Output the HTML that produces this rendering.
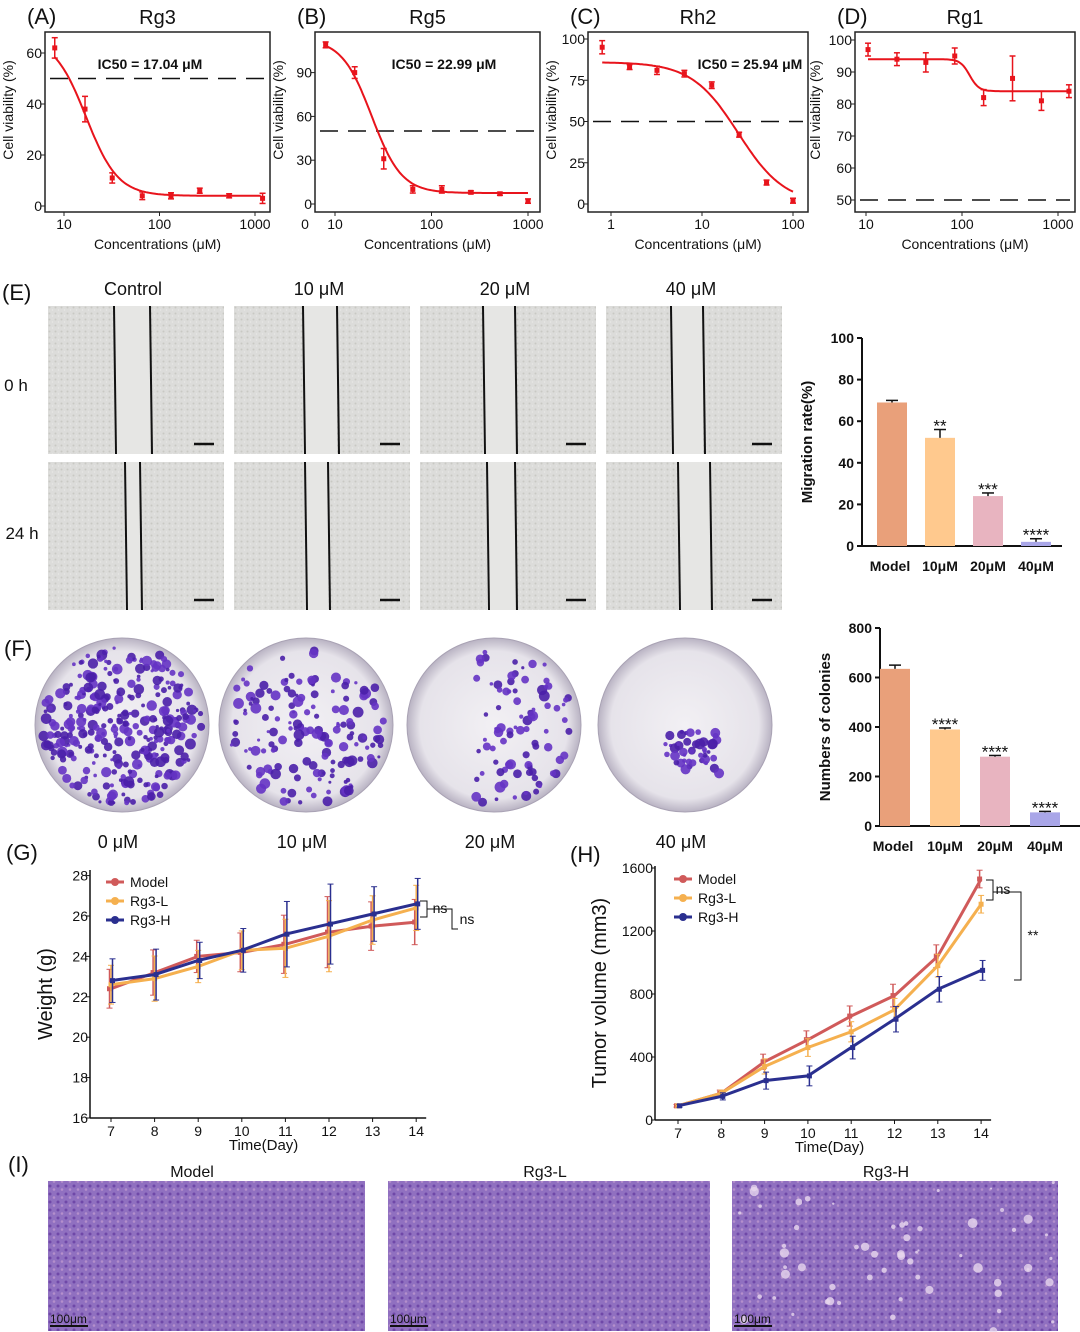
<!DOCTYPE html>
<html><head><meta charset="utf-8"><style>
html,body{margin:0;padding:0;background:#fff;}
svg{display:block;font-family:"Liberation Sans",Arial,sans-serif;}
</style></head><body>
<svg id="s" width="1080" height="1332" viewBox="0 0 1080 1332" xmlns="http://www.w3.org/2000/svg">
<defs>
<pattern id="grain" width="6" height="6" patternUnits="userSpaceOnUse"><rect width="6" height="6" fill="#dcdcda"/><circle cx="1.5" cy="1.5" r="1" fill="#c8c8c4"/><circle cx="4.5" cy="4" r="0.8" fill="#e8e8e6"/></pattern>
<pattern id="he" width="8" height="8" patternUnits="userSpaceOnUse"><rect width="8" height="8" fill="#9070c0"/><circle cx="2" cy="2" r="1.5" fill="#6f48a8"/><circle cx="6" cy="5.5" r="1.3" fill="#b48fcc"/></pattern>
<radialGradient id="dish"><stop offset="0" stop-color="#f2f0f4"/><stop offset="0.85" stop-color="#e6e3ea"/><stop offset="1" stop-color="#b9b3c3"/></radialGradient>
</defs>
<g id="root"></g>
</svg>
<script>
// ---------- data ----------
const concA=[8,16.6,32,66,132,264,536,1200];
const valA=[62,38,11,4,4,6,4,3];
const errA=[4,5,2,1.5,1.2,1,0.8,2];
const concB=[8,16,32,64,128,256,512,1000];
const valB=[109,90,31,10,10,8,7,2];
const errB=[2,4,7,2.5,2.5,1,1,1.5];
const concC=[0.8,1.6,3.2,6.4,12.8,25.6,51.2,100];
const valC=[95,83,81,79,72,42,13,2];
const errC=[4,1.5,2.5,2,2,1.5,1.5,1.5];
const concD=[10.5,21,42,84,168,336,672,1300];
const valD=[97,94,93,95,82,88,81,84];
const errD=[2,2,3,2.5,2.5,7,3,2];
const barCats=["Model","10μM","20μM","40μM"];
const migVals=[69,52,24,2];
const migErr=[1,4,1.5,1.5];
const migStars=["","**","***","****"];
const colVals=[635,390,280,55];
const colErr=[15,6,5,4];
const colStars=["","****","****","****"];
const days=[7,8,9,10,11,12,13,14];
const gModel=[22.4,23.2,24.0,24.2,24.6,25.2,25.5,25.7];
const gL=[22.6,22.9,23.5,24.3,24.4,25.0,25.8,26.4];
const gH=[22.8,23.1,23.8,24.3,25.1,25.6,26.1,26.6];
const gErr=[1.2,1.4,1.0,1.2,1.8,2.2,1.5,1.4];
const hModel=[90,170,370,510,660,790,1040,1530];
const hL=[90,170,340,460,560,700,980,1370];
const hH=[90,150,250,280,460,640,830,950];
const hErr=[10,25,60,70,80,90,90,70];
// ---------- helpers ----------
const NS="http://www.w3.org/2000/svg";const root=document.getElementById('root');
function el(t,a,p){const e=document.createElementNS(NS,t);for(const k in a)e.setAttribute(k,a[k]);(p||root).appendChild(e);return e;}
function tx(x,y,s,size,opt){opt=opt||{};const e=el('text',Object.assign({x:x,y:y,'font-size':size,fill:opt.fill||'#111','text-anchor':opt.a||'middle'},opt.attr||{}));if(opt.w)e.setAttribute('font-weight',opt.w);if(opt.rot)e.setAttribute('transform','rotate(-90 '+x+' '+y+')');e.textContent=s;return e;}
// ---------- dose-response panels ----------
function dose(o){
 const g=el('g',{});
 const X=c=>o.x10+(Math.log10(c)-1)*o.dec, Y=v=>o.y0-(v-o.ymin)*o.ppu;
 el('rect',{x:o.bx,y:32,width:o.bw,height:180,fill:'none',stroke:'#222','stroke-width':1.5},g);
 tx(o.bx+o.bw/2,24,o.title,20,{name:'panel-title'});tx(o.bx-18,24,o.letter,22,{a:'start',name:'panel-letter'});
 o.yt.forEach(v=>{el('line',{x1:o.bx-4,x2:o.bx,y1:Y(v),y2:Y(v),stroke:'#222'},g);tx(o.bx-3,Y(v)+5,String(v),14,{a:'end',name:'y-tick'});});
 o.xt.forEach(v=>{el('line',{x1:X(v),x2:X(v),y1:212,y2:216,stroke:'#222'},g);tx(X(v),229,String(v),14,{name:'x-tick'});});
 tx(o.bx+o.bw/2,249,'Concentrations (μM)',14,{name:'x-axis-title'});
 tx(o.bx-32+ (o.ylx||0),110,'Cell viability (%)',14,{rot:1,name:'y-axis-title'});
 el('line',{x1:o.bx+5,x2:o.bx+o.bw-5,y1:Y(50),y2:Y(50),stroke:'#111','stroke-width':1.5,'stroke-dasharray':'18 10'},g);
 if(o.ic)tx(o.icx,69,o.ic,14,{w:'bold',name:'ic50-label'});
 let d='';for(let i=0;i<=120;i++){const lc=Math.log10(o.cmin)+i/120*(Math.log10(o.cmax)-Math.log10(o.cmin));const c=Math.pow(10,lc);const v=o.bot+(o.top-o.bot)/(1+Math.pow(c/o.ic50,o.hill));d+=(i?'L':'M')+X(c).toFixed(1)+' '+Y(v).toFixed(1);}
 const p=el('path',{d:d,fill:'none',stroke:'#e8141c','stroke-width':2},g);
 o.c.forEach((c,i)=>{const x=X(c),y=Y(o.v[i]),e=o.e[i]*o.ppu;
  el('line',{x1:x,x2:x,y1:y-e,y2:y+e,stroke:'#e8141c','stroke-width':1.5},g);
  el('line',{x1:x-3,x2:x+3,y1:y-e,y2:y-e,stroke:'#e8141c','stroke-width':1.5},g);
  el('line',{x1:x-3,x2:x+3,y1:y+e,y2:y+e,stroke:'#e8141c','stroke-width':1.5},g);
  const r=el('rect',{x:x-2.5,y:y-2.5,width:5,height:5,fill:'#e8141c'},g);});
}
dose({name:'panel-a-rg3',letter:'(A)',title:'Rg3',bx:45,bw:225,x10:64,dec:95.5,y0:206,ymin:0,ppu:2.55,yt:[0,20,40,60],xt:[10,100,1000],ic:'IC50 = 17.04 μM',icx:150,c:concA,v:valA,e:errA,top:66,bot:4,ic50:17,hill:2.6,cmin:8,cmax:1150});
dose({name:'panel-b-rg5',letter:'(B)',title:'Rg5',bx:315,bw:225,x10:335,dec:96.5,y0:204,ymin:0,ppu:1.46,yt:[0,30,60,90],xt:[10,100,1000],ic:'IC50 = 22.99 μM',icx:444,c:concB,v:valB,e:errB,top:113,bot:7.5,ic50:24,hill:2.8,cmin:8,cmax:1000});
tx(305,229,'0',14,{name:'x-tick'});
dose({name:'panel-c-rh2',letter:'(C)',title:'Rh2',bx:588,bw:220,x10:702,dec:91,y0:204,ymin:0,ppu:1.65,yt:[0,25,50,75,100],xt:[1,10,100],ic:'IC50 = 25.94 μM',icx:750,c:concC,v:valC,e:errC,top:86,bot:0,ic50:25,hill:1.7,cmin:0.8,cmax:100});
dose({name:'panel-d-rg1',letter:'(D)',title:'Rg1',bx:855,bw:220,x10:866,dec:96,y0:200,ymin:50,ppu:3.2,yt:[50,60,70,80,90,100],xt:[10,100,1000],c:concD,v:valD,e:errD,top:94,bot:84,ic50:120,hill:9,cmin:10.5,cmax:1300,ylx:-3});
// ---------- E: scratch images ----------
tx(2,300,'(E)',22,{a:'start',name:'panel-letter'});
['Control','10 μM','20 μM','40 μM'].forEach((s,i)=>tx(133+i*186,295,s,18,{name:'column-label'}));
tx(16,391,'0 h',17,{name:'row-label'});tx(22,539,'24 h',17,{name:'row-label'});
const gaps=[[[114,150],[303,337],[483,515],[671,703]],[[125,140],[305,328],[487,515],[678,710]]];
[306,462].forEach((y,r)=>{[48,234,420,606].forEach((x,i)=>{
 const im=el('rect',{x:x,y:y,width:176,height:148,fill:'url(#grain)'});
 const gp=gaps[r][i];el('rect',{x:gp[0],y:y,width:gp[1]-gp[0],height:148,fill:'#e6e6e4'});
 el('line',{x1:gp[0],x2:gp[0]+2,y1:y,y2:y+148,stroke:'#111','stroke-width':2});el('line',{x1:gp[1],x2:gp[1]+2,y1:y,y2:y+148,stroke:'#111','stroke-width':2});
 el('line',{x1:x+146,x2:x+166,y1:y+138,y2:y+138,stroke:'#111','stroke-width':2.5});});});
// ---------- bar charts ----------
const barColors=['#e9a07a','#ffc98e','#e8b4c0','#a9a6e8'];
function bars(o){
 const Y=v=>o.y0-v*o.ppu;
 el('line',{x1:o.ax,x2:o.ax,y1:Y(o.max),y2:o.y0,stroke:'#111','stroke-width':2});
 el('line',{x1:o.ax,x2:o.ax+200,y1:o.y0,y2:o.y0,stroke:'#111','stroke-width':2});
 o.ticks.forEach(v=>{el('line',{x1:o.ax-5,x2:o.ax,y1:Y(v),y2:Y(v),stroke:'#111','stroke-width':2});tx(o.ax-8,Y(v)+5,String(v),14,{a:'end',w:'bold',name:'y-tick'});});
 tx(o.ax-50,(Y(o.max)+o.y0)/2,o.ytitle,15,{rot:1,w:'bold',name:'y-axis-title'});
 o.vals.forEach((v,i)=>{const cx=o.c0+i*o.step;
  const b=el('rect',{x:cx-15,y:Y(v),width:30,height:v*o.ppu,fill:barColors[i]});
  const e=o.err[i]*o.ppu;el('line',{x1:cx,x2:cx,y1:Y(v)-e,y2:Y(v),stroke:'#111','stroke-width':1.5});el('line',{x1:cx-6,x2:cx+6,y1:Y(v)-e,y2:Y(v)-e,stroke:'#111','stroke-width':1.5});
  if(o.stars[i])tx(cx,Y(v)-e+2,o.stars[i],17,{name:'significance'});
  tx(cx+(i==0?-2:0),o.y0+25,barCats[i],14,{w:'bold',name:'x-tick'});});
}
bars({ax:862,y0:546,ppu:2.08,max:100,ticks:[0,20,40,60,80,100],vals:migVals,err:migErr,stars:migStars,c0:892,step:48,ytitle:'Migration rate(%)'});
bars({ax:880,y0:826,ppu:0.2475,max:800,ticks:[0,200,400,600,800],vals:colVals,err:colErr,stars:colStars,c0:895,step:50,ytitle:'Numbers of colonies'});
// ---------- F: dishes ----------
tx(4,656,'(F)',22,{a:'start',name:'panel-letter'});
let seed=7;function rnd(){seed=(seed*9301+49297)%233280;return seed/233280;}
const dens=[320,170,140,45];
[[122,725],[306,725],[494,725],[685,725]].forEach((c,i)=>{
 const d=el('circle',{cx:c[0],cy:c[1],r:87,fill:'url(#dish)',stroke:'#a9a2b4'});
 for(let k=0;k<dens[i];k++){let a=rnd()*6.283,r=Math.sqrt(rnd())*80;let x=c[0]+r*Math.cos(a),y=c[1]+r*Math.sin(a);
  if(i==3){x=c[0]-20+rnd()*55;y=c[1]+5+rnd()*45;}
  if(i==2&&x<c[0]-20)continue;if(i==1&&y<c[1]-50&&rnd()<.6)continue;
  el('circle',{cx:x,cy:y,r:1.5+rnd()*4,fill:rnd()<.5?'#4a1fa8':'#6533c4','fill-opacity':0.9});}
 tx(c[0]-4,848,['0 μM','10 μM','20 μM','40 μM'][i],18,{name:'dish-label'});});
// ---------- line charts ----------
function lines(o){
 const X=d=>o.x7+(d-7)*o.dx,Y=v=>o.y0-(v-o.ymin)*o.ppu;
 el('line',{x1:o.ax,x2:o.ax,y1:o.ytop,y2:o.y0,stroke:'#111','stroke-width':1.5});
 el('line',{x1:o.ax,x2:X(14)+10,y1:o.y0,y2:o.y0,stroke:'#111','stroke-width':1.5});
 o.yt.forEach(v=>{el('line',{x1:o.ax-4,x2:o.ax,y1:Y(v),y2:Y(v),stroke:'#111'});tx(o.ax-2,Y(v)+5,String(v),14,{a:'end',name:'y-tick'});});
 days.forEach(d=>{el('line',{x1:X(d),x2:X(d),y1:o.y0,y2:o.y0+4,stroke:'#111'});tx(X(d),o.y0+18,String(d),14,{name:'x-tick'});});
 tx((X(7)+X(14))/2,o.y0+32,'Time(Day)',15,{name:'x-axis-title'});
 tx(o.ytx,(o.ytop+o.y0)/2,o.ytitle,20,{rot:1,name:'y-axis-title'});
 [['Model',o.m,'#d05a5a'],['Rg3-L',o.l,'#f5b04f'],['Rg3-H',o.h,'#2a2f8f']].forEach((s,j)=>{
  const pth=s[1].map((v,i)=>(i?'L':'M')+X(days[i]).toFixed(1)+' '+Y(v).toFixed(1)).join('');
  const p=el('path',{d:pth,fill:'none',stroke:s[2],'stroke-width':3});
  s[1].forEach((v,i)=>{const e=o.err[i]*o.ppu*(j==2?0.9:0.8);const x=X(days[i])+(j-1)*1.5;
   el('line',{x1:x,x2:x,y1:Y(v)-e,y2:Y(v)+e,stroke:s[2],'stroke-width':1.5});el('line',{x1:x-3,x2:x+3,y1:Y(v)-e,y2:Y(v)-e,stroke:s[2]});el('line',{x1:x-3,x2:x+3,y1:Y(v)+e,y2:Y(v)+e,stroke:s[2]});
   el('rect',{x:x-2.5,y:Y(v)-2.5,width:5,height:5,fill:s[2]});});
  const ly=o.legy+j*19;el('line',{x1:o.legx,x2:o.legx+18,y1:ly,y2:ly,stroke:s[2],'stroke-width':3});
  el('circle',{cx:o.legx+9,cy:ly,r:4,fill:s[2]});tx(o.legx+24,ly+5,s[0],14,{a:'start',name:'legend-entry'});});
}
tx(6,860,'(G)',22,{a:'start',name:'panel-letter'});
lines({ax:90,x7:111,dx:43.6,y0:1118,ymin:16,ppu:20.2,ytop:870,yt:[16,18,20,22,24,26,28],m:gModel,l:gL,h:gH,err:gErr,legx:106,legy:882,ytitle:'Weight (g)',ytx:52});
el('path',{d:'M420 901 H427 V917 H420 M427 909 H452 V929 H458',fill:'none',stroke:'#111'});
tx(440,913,'ns',14,{name:'significance'});tx(467,924,'ns',14,{name:'significance'});
tx(570,862,'(H)',22,{a:'start',name:'panel-letter'});
lines({ax:655,x7:678,dx:43.3,y0:1120,ymin:0,ppu:0.1575,ytop:866,yt:[0,400,800,1200,1600],m:hModel,l:hL,h:hH,err:hErr,legx:674,legy:879,ytitle:'Tumor volume (mm3)',ytx:606});
el('path',{d:'M986 880 H993 V900 H986 M993 892 H1021 V980 H1014',fill:'none',stroke:'#111'});
tx(1003,894,'ns',14,{name:'significance'});tx(1033,940,'**',14,{name:'significance'});
// ---------- I: histology ----------
tx(8,1172,'(I)',22,{a:'start',name:'panel-letter'});
[[48,317,'Model',192],[388,322,'Rg3-L',545],[732,326,'Rg3-H',886]].forEach((s,n)=>{
 tx(s[3],1177,s[2],16,{name:'image-title'});
 const r=el('rect',{x:s[0],y:1181,width:s[1],height:150,fill:'url(#he)'});
 if(n==2){for(let k=0;k<60;k++){el('circle',{cx:s[0]+rnd()*s[1],cy:1181+rnd()*150,r:1+rnd()*4,fill:'#e8d8ee','fill-opacity':0.8});}}
 tx(s[0]+2,1323,'100μm',12,{a:'start',name:'scale-bar'});el('line',{x1:s[0]+2,x2:s[0]+40,y1:1326,y2:1326,stroke:'#111','stroke-width':2});});
</script>
</body></html>
